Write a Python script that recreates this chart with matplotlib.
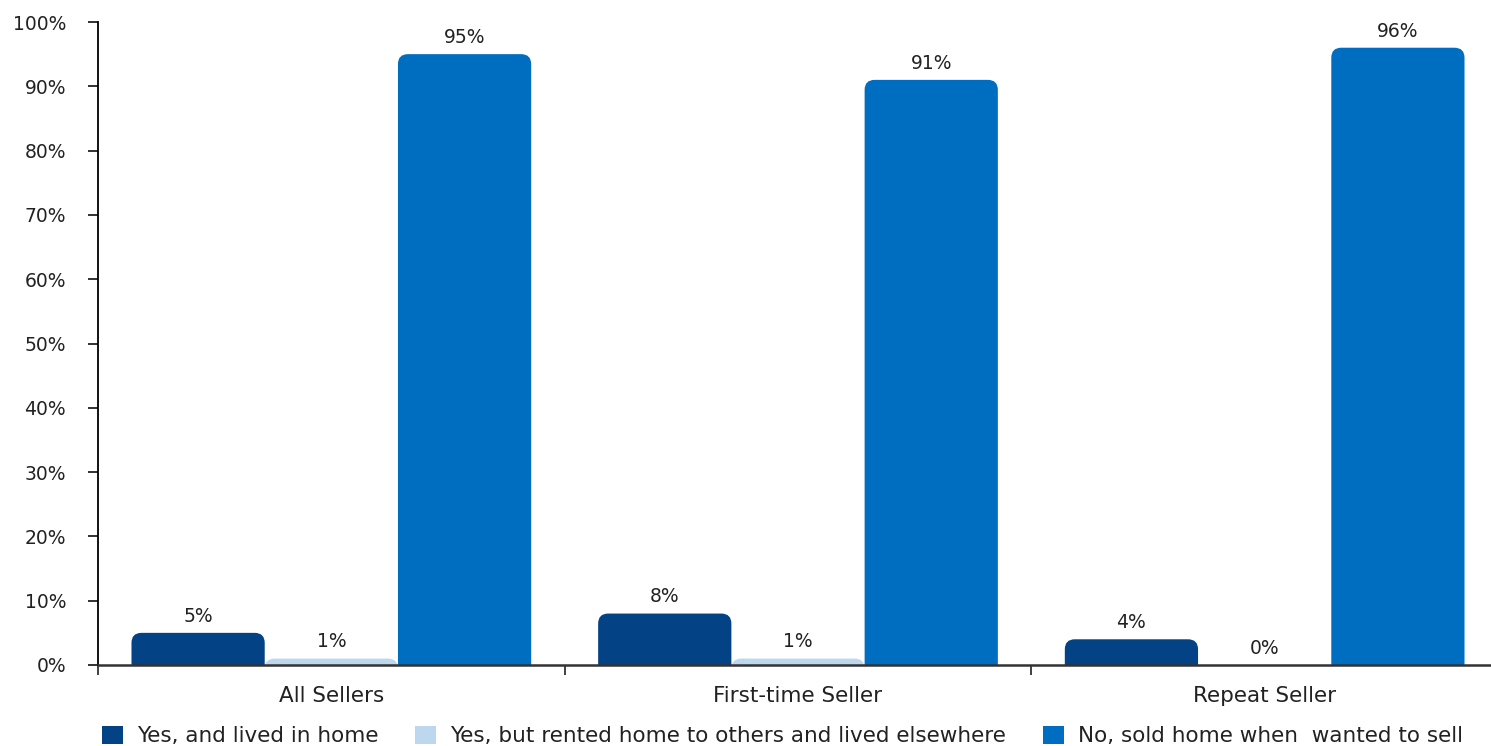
import numpy as np
import matplotlib.pyplot as plt
from matplotlib.patches import FancyBboxPatch, Patch
from matplotlib.ticker import FixedLocator, PercentFormatter

categories = ["All Sellers", "First-time Seller", "Repeat Seller"]
series = [
    "Yes, and lived in home",
    "Yes, but rented home to others and lived elsewhere",
    "No, sold home when  wanted to sell",
]
lived_in = [5, 8, 4]
rented = [1, 1, 0]
sold = [95, 91, 96]
colors = ["#034385", "#bdd7ee", "#006ec0"]

plt.rcParams["font.family"] = ["DejaVu Sans"]
TXT = "#222222"
FS = 13.5
FS_TXT = 15.5

fig = plt.figure(figsize=(14.91, 7.46), dpi=100)
ax = fig.add_axes([98 / 1491, 81 / 746, 1400 / 1491, 643 / 746])

x = np.arange(len(categories))
w = 0.2855
radius_px = 10
ax.set_xlim(-0.5, 2.5)
ax.set_ylim(0, 100)
# px -> data units
dx = 1 / 467 * radius_px
dy = 100 / 643 * radius_px

for i, (vals, c) in enumerate(zip([lived_in, rented, sold], colors)):
    bars = ax.bar(x + (i - 1) * w, vals, w, color=c)
    for b, v in zip(bars, vals):
        b.set_visible(False)
        if v > 0:
            p = FancyBboxPatch((b.get_x(), -dy), b.get_width(), v + dy,
                               boxstyle=f"round,pad=0,rounding_size={dx}",
                               mutation_aspect=dy / dx, fc=c, ec="none",
                               clip_on=True, zorder=2)
            ax.add_patch(p)
        ax.text(b.get_x() + b.get_width() / 2, v + 1.1, f"{v}%", ha="center",
                va="bottom", fontsize=FS, color=TXT)

ax.yaxis.set_major_locator(FixedLocator(np.arange(0, 101, 10)))
ax.yaxis.set_major_formatter(PercentFormatter(decimals=0))
ax.set_xticks(x)
ax.set_xticklabels(categories)
ax.xaxis.set_minor_locator(FixedLocator([-0.5, 0.5, 1.5]))
ax.tick_params(axis="x", which="major", length=0, pad=15, labelsize=FS_TXT, labelcolor=TXT)
ax.tick_params(axis="x", which="minor", length=7, width=1.3, color="#333333")
ax.tick_params(axis="y", length=7, width=1.3, color="#222222", labelsize=FS,
               labelcolor=TXT, pad=16)
ax.spines[["top", "right"]].set_visible(False)
ax.spines["left"].set_linewidth(1.3)
ax.spines["bottom"].set_linewidth(1.8)
ax.spines["bottom"].set_color("#333333")
ax.spines["bottom"].set_zorder(5)

handles = [Patch(fc=c, ec="none") for c in colors]
fig.legend(handles, series, loc="center left", bbox_to_anchor=(102 / 1491, 10 / 746),
           ncol=3, frameon=False, fontsize=FS_TXT, handlelength=0.97, handleheight=0.95,
           columnspacing=1.72, handletextpad=0.65, labelcolor=TXT,
           borderaxespad=0, borderpad=0)

fig.savefig("out.png", dpi=100, facecolor="white")
